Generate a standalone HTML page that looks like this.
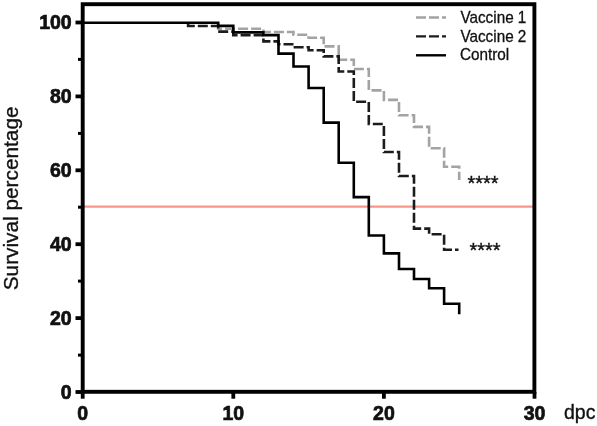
<!DOCTYPE html>
<html><head><meta charset="utf-8"><title>Survival</title>
<style>
html,body{margin:0;padding:0;background:#fff;}
svg{display:block;font-family:"Liberation Sans",Arial,Helvetica,sans-serif;}
.b{font-weight:bold;font-size:19.5px;fill:#111;stroke:#111;stroke-width:0.7px;}
.l{font-size:16.1px;fill:#111;stroke:#111;stroke-width:0.3px;}
.r{fill:#111;stroke:#111;stroke-width:0.35px;}
</style></head><body>
<svg width="597" height="426" viewBox="0 0 597 426">
<rect width="597" height="426" fill="#fff"/>
<line x1="84" x2="533" y1="206.7" y2="206.7" stroke="#f8968a" stroke-width="2.3"/>
<path d="M218.2 22.7H218.2V28.8H263.4V32H293.5V34.7H308.6V37.8H323.7V46.4H338.7V59.7H353.8V69H368.8V90.4H383.9V99.9H399.0V115.3H414.0V126.9H429.1V148.2H444.1V166.7H459.2V180" fill="none" stroke="#a3a3a3" stroke-width="2.6" stroke-dasharray="10 3"/>
<path d="M188.1 22.7H188.1V26.0H218.2V31.6H233.3V35.2H263.4V41.4H278.5V44.3H293.5V47.2H308.6V50.2H323.7V56.4H338.7V71.5H353.8V101.7H368.8V124H383.9V152H399.0V176H414.0V228.6H429.1V234.2H444.1V249.8H458.5" fill="none" stroke="#1c1c1c" stroke-width="2.6" stroke-dasharray="10 3"/>
<path d="M82.7 22.7H218.2V25.9H233.3V32.4H263.4V35.1H278.5V53.6H293.5V66.5H308.6V88H323.7V122.6H338.7V162.8H353.8V197.1H368.8V235.5H383.9V253.4H399.0V269H414.0V279H429.1V288.3H444.1V303.7H459.2V314.2" fill="none" stroke="#000" stroke-width="2.6"/>
<rect x="82.7" y="4.2" width="451.7" height="387.6" fill="none" stroke="#000" stroke-width="3.9"/>
<g stroke="#000" stroke-width="3.8"><line x1="75.5" x2="82" y1="392.0" y2="392.0"/><line x1="75.5" x2="82" y1="318.1" y2="318.1"/><line x1="75.5" x2="82" y1="244.2" y2="244.2"/><line x1="75.5" x2="82" y1="170.3" y2="170.3"/><line x1="75.5" x2="82" y1="96.4" y2="96.4"/><line x1="75.5" x2="82" y1="22.5" y2="22.5"/><line x1="82.7" x2="82.7" y1="392" y2="398.7"/><line x1="233.3" x2="233.3" y1="392" y2="398.7"/><line x1="383.9" x2="383.9" y1="392" y2="398.7"/><line x1="534.5" x2="534.5" y1="392" y2="398.7"/></g>
<g stroke="#000" stroke-width="3"><line x1="78" x2="82" y1="355.1" y2="355.1"/><line x1="78" x2="82" y1="281.1" y2="281.1"/><line x1="78" x2="82" y1="207.2" y2="207.2"/><line x1="78" x2="82" y1="133.4" y2="133.4"/><line x1="78" x2="82" y1="59.4" y2="59.4"/></g>
<g class="b"><text x="71.7" y="398.9" text-anchor="end">0</text><text x="71.7" y="325.0" text-anchor="end">20</text><text x="71.7" y="251.1" text-anchor="end">40</text><text x="71.7" y="177.20000000000002" text-anchor="end">60</text><text x="71.7" y="103.30000000000001" text-anchor="end">80</text><text x="71.7" y="29.4" text-anchor="end">100</text><text x="82.7" y="420" text-anchor="middle">0</text><text x="233.3" y="420" text-anchor="middle">10</text><text x="383.9" y="420" text-anchor="middle">20</text><text x="534.5" y="420" text-anchor="middle">30</text></g>
<text class="r" x="564" y="419.3" font-size="19.5">dpc</text>
<text class="r" transform="translate(18.3,290.3) rotate(-90)" font-size="20.8">Survival percentage</text>
<g stroke-width="2.4" fill="none">
<line x1="416" x2="446" y1="17.5" y2="17.5" stroke="#a3a3a3" stroke-dasharray="10 3"/>
<line x1="416" x2="446" y1="36.4" y2="36.4" stroke="#1c1c1c" stroke-dasharray="10 3"/>
<line x1="416" x2="446" y1="55.3" y2="55.3" stroke="#000"/>
</g>
<g class="l" transform="translate(460.4,0) scale(0.95,1)">
<text x="0" y="23.1">Vaccine 1</text>
<text x="0" y="41.7">Vaccine 2</text>
<text x="-0.5" y="60.3">Control</text>
</g>
<text class="r" x="467.5" y="190.4" font-size="20" stroke-width="0.6">****</text>
<text class="r" x="469.5" y="257.4" font-size="20" stroke-width="0.6">****</text>
</svg>
</body></html>
